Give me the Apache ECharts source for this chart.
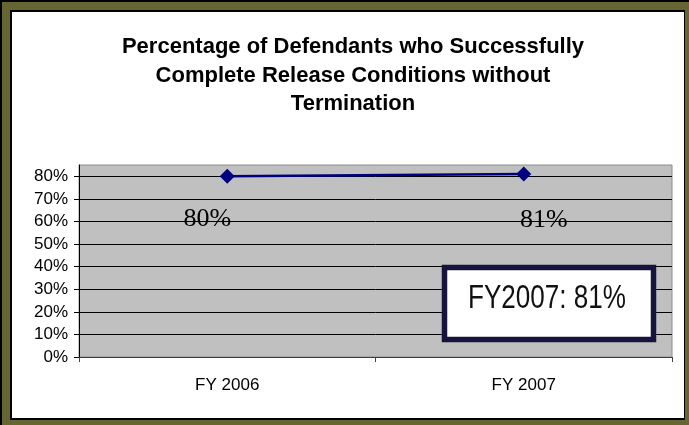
<!DOCTYPE html>
<html>
<head>
<meta charset="utf-8">
<script src="https://cdn.jsdelivr.net/npm/echarts@6/dist/echarts.min.js"></script>
<style>
    html, body {margin: 0; padding: 0; background: #000;}
    #chart {width: 689px; height: 425px;}
</style>
</head>
<body>
<div id="chart"></div>
<script>
const title_text = 'Percentage of Defendants who Successfully\nComplete Release Conditions without\nTermination';
const categories = ['FY 2006', 'FY 2007'];
const values = [80, 81];
const label_offsets = [[-20, 43], [20, 46]];
const y_max = 85;
const y_interval = 10;
const callout_text = 'FY2007: 81%';

let my_chart = echarts.init(document.getElementById('chart'), null, {renderer: 'canvas'});

let option = {
    animation: false,
    backgroundColor: '#000000',
    title: {
        text: title_text, left: 348, top: 28, textAlign: 'center',
        textStyle: {fontFamily: 'Liberation Sans, Arial', fontWeight: 'bold', fontSize: 22, lineHeight: 28.5, color: '#000'}
    },
    graphic: [
        {type: 'rect', z: -10, shape: {x: 2, y: 2, width: 687, height: 423}, style: {fill: '#666633'}, silent: true},
        {type: 'rect', z: -9, shape: {x: 10, y: 10, width: 675, height: 410}, style: {fill: '#000'}, silent: true},
        {type: 'rect', z: -8, shape: {x: 12, y: 12, width: 672, height: 406}, style: {fill: '#fff'}, silent: true},
        {
            type: 'rect', z: 100, shape: {x: 444.5, y: 267.5, width: 209, height: 72},
            style: {fill: '#fff', stroke: '#14143c', lineWidth: 5.5}
        },
        {
            type: 'text', z: 101, x: 547, y: 299, scaleX: 0.79,
            style: {
                text: callout_text, fontFamily: 'Liberation Sans, Arial', fontSize: 33,
                fill: '#111', align: 'center', verticalAlign: 'middle'
            }
        }
    ],
    grid: {
        left: 79, right: 17, top: 165, bottom: 68,
        show: true, backgroundColor: '#c0c0c0', borderColor: '#8c8c8c', borderWidth: 1
    },
    xAxis: {
        type: 'category', data: categories, boundaryGap: true,
        axisLine: {lineStyle: {color: '#404040', width: 1}},
        axisTick: {show: true, length: 5, lineStyle: {color: '#404040'}},
        axisLabel: {fontFamily: 'Liberation Sans, Arial', fontSize: 17, color: '#000', margin: 20}
    },
    yAxis: {
        type: 'value', min: 0, max: y_max, interval: y_interval,
        axisLine: {show: true, lineStyle: {color: '#000', width: 1}},
        axisTick: {show: true, length: 5, lineStyle: {color: '#000'}},
        axisLabel: {
            fontFamily: 'Liberation Sans, Arial', fontSize: 17, color: '#000', margin: 11,
            showMaxLabel: false, formatter: v => v + '%'
        },
        splitLine: {show: true, showMaxLine: false, lineStyle: {color: '#000', width: 1}}
    },
    series: [{
        type: 'line',
        data: values.map((v, i) => ({
            value: v,
            label: {offset: label_offsets[i]}
        })),
        symbol: 'diamond', symbolSize: [15, 15],
        lineStyle: {color: '#000080', width: 2.5},
        itemStyle: {color: '#000080'},
        label: {
            show: true, position: 'inside', formatter: p => p.value + '%',
            fontFamily: 'Liberation Serif, Times New Roman', fontSize: 26, color: '#000'
        }
    }]
};

my_chart.setOption(option);
</script>
</body>
</html>
